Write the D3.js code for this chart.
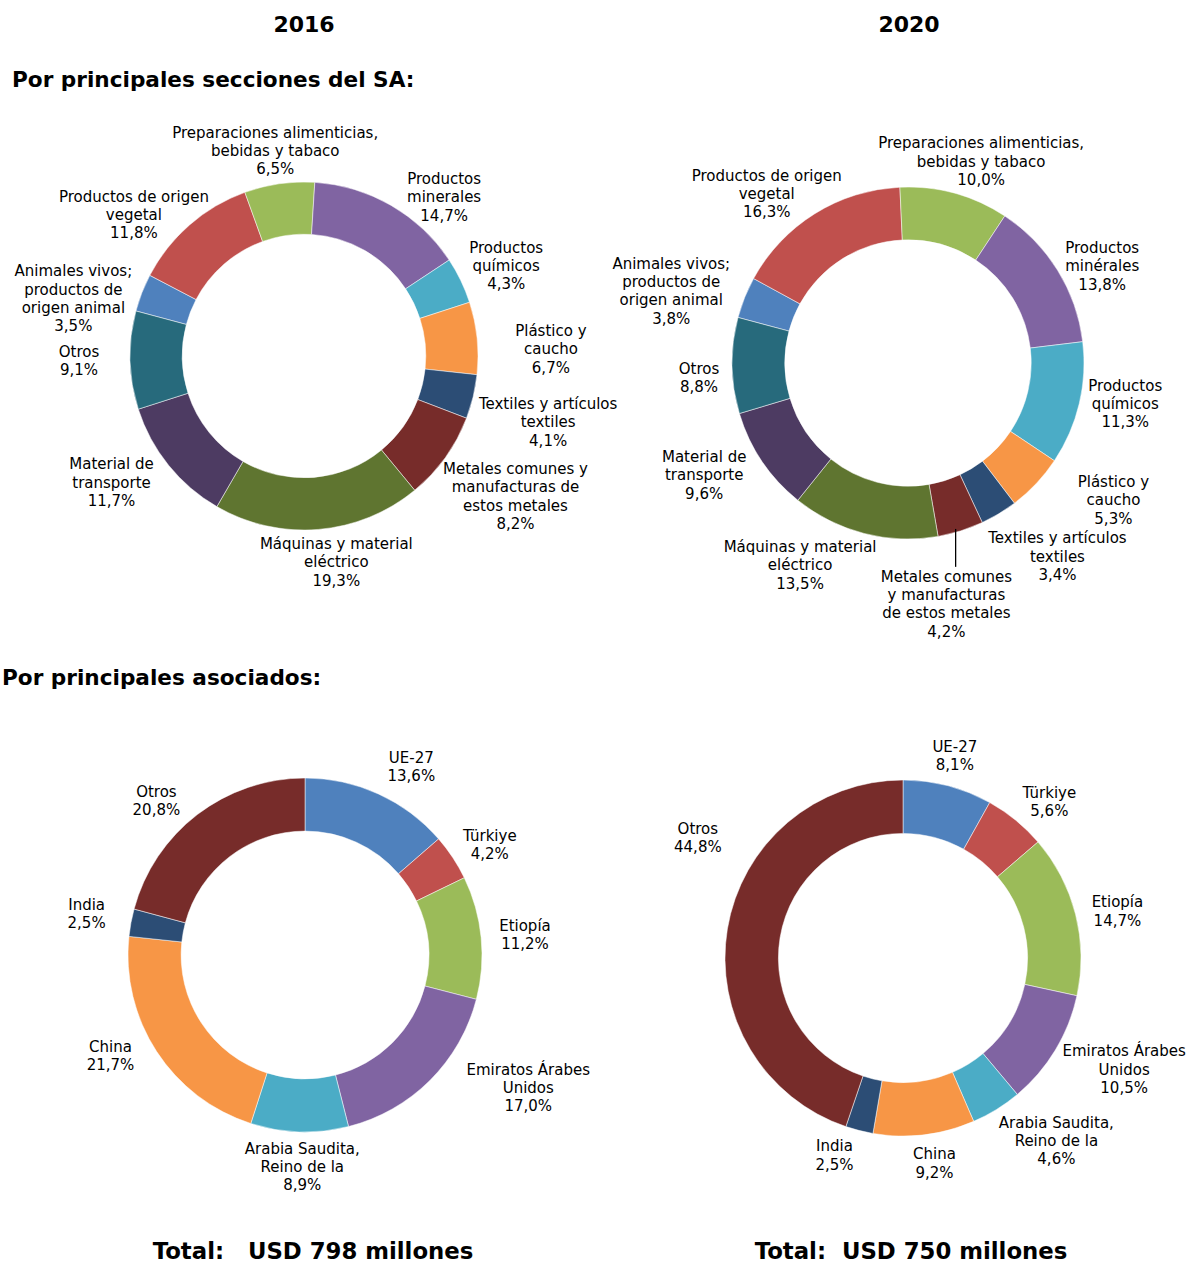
<!DOCTYPE html>
<html>
<head>
<meta charset="utf-8">
<script src="https://cdn.jsdelivr.net/npm/d3@7"></script>
<style>
  body { margin: 0; background: #fff; }
  text { font-family: "DejaVu Sans", Verdana, sans-serif; fill: #000; }
</style>
</head>
<body>
<svg id="chart" width="1190" height="1265"></svg>
<script>
// ---- Data -------------------------------------------------------------
const years = ["2016", "2020"];

const sectionColors = ["#4F81BD", "#C0504D", "#9BBB59", "#8064A2", "#4BACC6", "#F79646",
                       "#2C4D75", "#772C2A", "#5F7530", "#4D3B62", "#276A7C"];

const sections2016 = [
  "Animales vivos;\nproductos de\norigen animal",
  "Productos de origen\nvegetal",
  "Preparaciones alimenticias,\nbebidas y tabaco",
  "Productos\nminerales",
  "Productos\nquímicos",
  "Plástico y\ncaucho",
  "Textiles y artículos\ntextiles",
  "Metales comunes y\nmanufacturas de\nestos metales",
  "Máquinas y material\neléctrico",
  "Material de\ntransporte",
  "Otros"
];
const shares2016 = [3.5, 11.8, 6.5, 14.7, 4.3, 6.7, 4.1, 8.2, 19.3, 11.7, 9.1];

const sections2020 = [
  "Animales vivos;\nproductos de\norigen animal",
  "Productos de origen\nvegetal",
  "Preparaciones alimenticias,\nbebidas y tabaco",
  "Productos\nminérales",
  "Productos\nquímicos",
  "Plástico y\ncaucho",
  "Textiles y artículos\ntextiles",
  "Metales comunes\ny manufacturas\nde estos metales",
  "Máquinas y material\neléctrico",
  "Material de\ntransporte",
  "Otros"
];
const shares2020 = [3.8, 16.3, 10.0, 13.8, 11.3, 5.3, 3.4, 4.2, 13.5, 9.6, 8.8];

const partnerColors = ["#4F81BD", "#C0504D", "#9BBB59", "#8064A2", "#4BACC6", "#F79646",
                       "#2C4D75", "#772C2A"];
const partners = ["UE-27", "Türkiye", "Etiopía", "Emiratos Árabes\nUnidos",
                  "Arabia Saudita,\nReino de la", "China", "India", "Otros"];
const partnerShares2016 = [13.6, 4.2, 11.2, 17.0, 8.9, 21.7, 2.5, 20.8];
const partnerShares2020 = [8.1, 5.6, 14.7, 10.5, 4.6, 9.2, 2.5, 44.8];

const totals = ["Total:   USD 798 millones", "Total:  USD 750 millones"];

// ---- Layout -----------------------------------------------------------
const svg = d3.select("#chart");
const fmt = v => d3.format(".1f")(v).replace(".", ",") + "%";
const lineH = 18.3;

// label nudges (dx, dy) from the default radial anchor, per slice
const charts = [
  { cx: 304, cy: 356, r: 174, rot: -75, cats: sections2016, vals: shares2016, colors: sectionColors,
    nudge: [[-35,19],[-32,17],[1,3],[35,23],[13,1],[38,15],[40,17],[41,18],[15,-3],[-29,-5],[-15,0]] },
  { cx: 908, cy: 363, r: 176, rot: -75, cats: sections2020, vals: shares2020, colors: sectionColors,
    nudge: [[-40,7],[-29,11],[17,3],[14,15],[11,-8],[51,-8],[40,12],[-25,39],[-55,-3],[-28,-6],[3,12]],
    leader: 7 },
  { cx: 305, cy: 955, r: 177, rot: 0, cats: partners, vals: partnerShares2016, colors: partnerColors,
    nudge: [[18,6],[7,7],[8,1],[73,-18],[4,-1],[-16,-15],[-9,-2],[-19,15]] },
  { cx: 903, cy: 958, r: 178, rot: 0, cats: partners, vals: partnerShares2020, colors: partnerColors,
    nudge: [[-2,5],[11,10],[7,6],[38,1],[41,1],[6,-7],[-16,-10],[6,-85]] }
];

charts.forEach(ch => {
  const a0 = ch.rot * Math.PI / 180;
  const pie = d3.pie().sort(null).value(d => d).startAngle(a0).endAngle(a0 + 2 * Math.PI);
  const arc = d3.arc().innerRadius(ch.r * 0.70).outerRadius(ch.r);
  const arcs = pie(ch.vals);
  const g = svg.append("g").attr("transform", `translate(${ch.cx},${ch.cy})`);

  g.selectAll("path.slice").data(arcs).join("path")
    .attr("class", "slice")
    .attr("d", arc)
    .attr("fill", (d, i) => ch.colors[i])
    .attr("stroke", "#fff")
    .attr("stroke-width", 0.5);

  arcs.forEach((d, i) => {
    const mid = (d.startAngle + d.endAngle) / 2;
    const ux = Math.sin(mid), uy = -Math.cos(mid);
    const R = ch.r + 36;
    const x = ux * R + ch.nudge[i][0];
    const y = uy * R + ch.nudge[i][1];
    const lines = ch.cats[i].split("\n").concat([fmt(d.data)]);
    const t = g.append("text")
      .attr("text-anchor", "middle")
      .attr("font-size", 15);
    lines.forEach((ln, k) => {
      t.append("tspan")
        .attr("x", x)
        .attr("y", y + (k - (lines.length - 1) / 2) * lineH)
        .attr("dominant-baseline", "central")
        .text(ln);
    });
    if (ch.leader === i) {
      const px = ux * ch.r, py = uy * ch.r;
      const top = y - (lines.length - 1) / 2 * lineH - 10;
      g.append("line")
        .attr("x1", px - 5).attr("y1", py - 2)
        .attr("x2", px - 5).attr("y2", top)
        .attr("stroke", "#000").attr("stroke-width", 1.3);
    }
  });
});

// ---- Titles -----------------------------------------------------------
const bold = sel => sel.attr("font-weight", "bold").style("white-space", "pre");

bold(svg.append("text")).attr("x", 304).attr("y", 32).attr("text-anchor", "middle")
  .attr("font-size", 22).text(years[0]);
bold(svg.append("text")).attr("x", 909).attr("y", 32).attr("text-anchor", "middle")
  .attr("font-size", 22).text(years[1]);

bold(svg.append("text")).attr("x", 12).attr("y", 87).attr("font-size", 21.6)
  .text("Por principales secciones del SA:");
bold(svg.append("text")).attr("x", 2).attr("y", 685).attr("font-size", 21.6)
  .text("Por principales asociados:");

bold(svg.append("text")).attr("x", 313).attr("y", 1259).attr("text-anchor", "middle")
  .attr("font-size", 22.8).text(totals[0]);
bold(svg.append("text")).attr("x", 911).attr("y", 1259).attr("text-anchor", "middle")
  .attr("font-size", 22.8).text(totals[1]);
</script>
</body>
</html>
